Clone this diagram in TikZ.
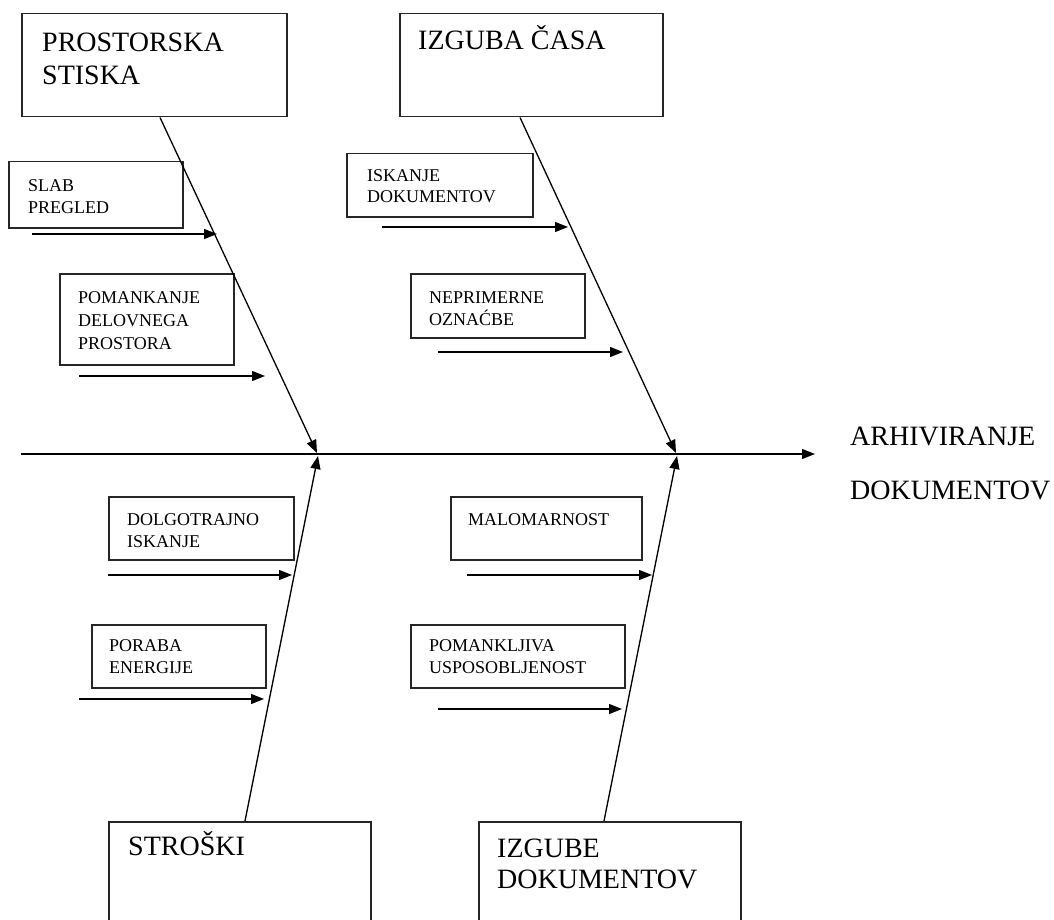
\documentclass[tikz,border=0pt]{standalone}
\usepackage{fontspec}
\setmainfont{Liberation Serif}
\usetikzlibrary{arrows.meta,calc}
\begin{document}
\begin{tikzpicture}[x=1pt,y=-1pt,
  box/.style={draw=black!85, line width=1.5pt, inner sep=0pt, anchor=north west},
  big/.style={font=\fontsize{28}{33}\selectfont, anchor=base west, inner sep=0pt, align=left},
  small/.style={font=\fontsize{18}{21.5}\selectfont, anchor=base west, inner sep=0pt, align=left},
  arr/.style={line width=1.3pt, -{Triangle[length=13pt,width=10pt]}},
]
\useasboundingbox (0,0) rectangle (1054,920);
\clip (0,0) rectangle (1054,920);

% boxes
\node[box, minimum width=265pt, minimum height=103pt] (prost) at (21,13) {};
\node[box, minimum width=263pt, minimum height=103pt] (izg) at (399,13) {};
\node[box, minimum width=174pt, minimum height=66pt] (slab) at (8,161) {};
\node[box, minimum width=186pt, minimum height=63pt] (isk) at (346,153) {};
\node[box, minimum width=174pt, minimum height=91pt] (pom) at (59,273) {};
\node[box, minimum width=174pt, minimum height=64pt] (nep) at (410,273) {};
\node[box, minimum width=185pt, minimum height=63pt] (dolg) at (108,496) {};
\node[box, minimum width=174pt, minimum height=63pt] (por) at (91,624) {};
\node[box, minimum width=191pt, minimum height=63pt] (malo) at (450,496) {};
\node[box, minimum width=214pt, minimum height=63pt] (pomk) at (410,624) {};
\node[box, minimum width=262pt, minimum height=120pt] (stro) at (108,821) {};
\node[box, minimum width=262pt, minimum height=120pt] (izgb) at (478,821) {};

% texts (base anchor = baseline of the last line)
\node[big] (tprost) at (42,85) {PROSTORSKA\\STISKA};
\node[big] (tizg) at (418,50) {IZGUBA ČASA};
\node[small] (tslab) at (28,213) {SLAB\\PREGLED};
\node[small] (tisk) at (367,203) {ISKANJE\\DOKUMENTOV};
\node[small, font=\fontsize{18}{23}\selectfont] (tpom) at (78,349) {POMANKANJE\\DELOVNEGA\\PROSTORA};
\node[small] (tnep) at (429,325) {NEPRIMERNE\\OZNAĆBE};
\node[small] (tdolg) at (127,547) {DOLGOTRAJNO\\ISKANJE};
\node[small] (tpor) at (109,673) {PORABA\\ENERGIJE};
\node[small] (tmalo) at (468,525) {MALOMARNOST};
\node[small] (tpomk) at (429,673) {POMANKLJIVA\\USPOSOBLJENOST};
\node[big] (tstro) at (128,855) {STROŠKI};
\node[big, font=\fontsize{28}{31}\selectfont] (tizgb) at (497,888) {IZGUBE\\DOKUMENTOV};
\node[big, font=\fontsize{28}{54}\selectfont] (tarh) at (850,499) {ARHIVIRANJE\\DOKUMENTOV};

% spine
\coordinate (spL) at (21,454);
\coordinate (spR) at (815,454);
\draw[arr] (spL) -- (spR);

% bones
\coordinate (j1) at (317,453);
\coordinate (j2) at (676,453);
\coordinate (j1b) at (318,456);
\coordinate (j2b) at (677,456);
\draw[arr] ($(prost.south west)+(139,0)$) -- (j1);
\draw[arr] ($(izg.south west)+(121,0)$) -- (j2);
\draw[arr] ($(stro.north west)+(137,0)$) -- (j1b);
\draw[arr] ($(izgb.north west)+(126,0)$) -- (j2b);

% cause arrows
\coordinate (s1) at (32,234);  \coordinate (e1) at (217,234);
\coordinate (s2) at (79,376);  \coordinate (e2) at (265,376);
\coordinate (s3) at (382,227); \coordinate (e3) at (568,227);
\coordinate (s4) at (438,352); \coordinate (e4) at (623,352);
\coordinate (s5) at (108,575); \coordinate (e5) at (292,575);
\coordinate (s6) at (79,699);  \coordinate (e6) at (264,699);
\coordinate (s7) at (467,575); \coordinate (e7) at (652,575);
\coordinate (s8) at (438,709); \coordinate (e8) at (622,709);
\foreach \i in {1,...,8} {\draw[arr] (s\i) -- (e\i);}
\end{tikzpicture}
\end{document}
